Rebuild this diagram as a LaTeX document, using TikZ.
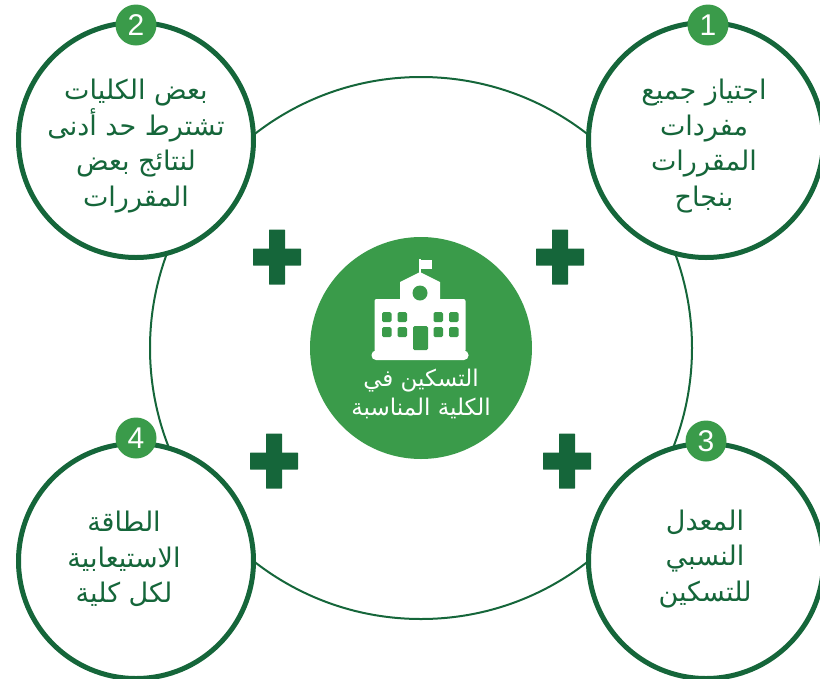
\documentclass[tikz,border=0pt]{standalone}
\usepackage{xcolor}
\usepackage{fontspec}
\setmainfont{Liberation Sans}
\newfontfamily\arabicfont[Script=Arabic]{DejaVu Sans}
\TeXXeTstate=1
\usepackage{tikz}

\definecolor{darkgreen}{HTML}{15663A}
\definecolor{midgreen}{HTML}{3A9B4A}
\newcommand{\ar}[1]{\beginR #1\endR}

\tikzset{
    ringline/.style={circle, draw=darkgreen, line width=2pt, inner sep=0pt, minimum size=542pt},
    hub/.style={circle, fill=midgreen, inner sep=0pt, minimum size=222pt},
    topic/.style={circle, draw=darkgreen, fill=white, line width=5pt, inner sep=0pt, minimum size=235pt},
    badge/.style={circle, fill=midgreen, text=white, inner sep=0pt, minimum size=41pt, font=\fontsize{30}{30}\selectfont},
    topictext/.style={text=darkgreen, align=center, font=\arabicfont\fontsize{27}{35.5}\selectfont},
    hubtext/.style={text=white, align=center, font=\arabicfont\fontsize{23}{29}\selectfont},
    plusbar/.style={fill=darkgreen, rounded corners=0.5pt},
    iconpart/.style={fill=white, rounded corners=2pt},
    iconhole/.style={fill=midgreen, rounded corners=1.5pt}
}

\begin{document}
\begin{tikzpicture}[x=1pt, y=-1pt]
    \useasboundingbox (0,0) rectangle (820,678);
    \node[ringline] (ring) at (421,348) {};

    \foreach \num/\x/\y/\bx/\by/\tx/\ty/\txt in {
        1/706/140/708/25/704/146/{\ar{اجتياز جميع}\\\ar{مفردات}\\\ar{المقررات}\\\ar{بنجاح}},
        2/136/140/136/25/136/146/{\ar{بعض الكليات}\\\ar{تشترط حد أدنى}\\\ar{لنتائج بعض}\\\ar{المقررات}},
        3/706/561/706/441/705/559/{\ar{المعدل}\\\ar{النسبي}\\\ar{للتسكين}},
        4/136/561/136/438/124/559/{\ar{الطاقة}\\\ar{الاستيعابية}\\\ar{لكل كلية}}} {
        % Circle with its number on the rim
        \node[topic] (topic\num) at (\x,\y) {};
        \node[badge] (badge\num) at (\bx,\by) {\num};
        \node[topictext] (text\num) at (\tx,\ty) {\txt};
    }

    % Plus signs
    \foreach \x/\y in {277/257, 560/257, 274/461, 567/461} {
        \fill[plusbar] (\x-24,\y-8.5) rectangle ++(48,17);
        \fill[plusbar] (\x-8,\y-27.5) rectangle ++(16,55);
    }

    \node[hub] (hub) at (421,348) {};
    \node[hubtext] (hublabel) at (421,394) {\ar{التسكين في}\\\ar{الكلية المناسبة}};

    % School building
    \fill[white, rounded corners=4.5pt] (371.5,350.5) rectangle (468.5,360);
    \fill[iconpart] (374.5,299) rectangle (465.5,352);
    \fill[white] (400,300) -- (400,282) -- (420,272) -- (440,282) -- (440,300) -- cycle;
    \fill[white] (419,259) rectangle (421,273);
    \fill[white] (421,260) rectangle (432,269);
    \fill[midgreen] (420,293) circle (7.5);
    \foreach \x in {382,397.5,433.5,449} {
        \foreach \y in {312,327} {
            \fill[iconhole] (\x,\y) rectangle ++(9.5,10);
        }
    }
    \fill[iconhole] (413,326) rectangle (428,350);
\end{tikzpicture}
\end{document}
